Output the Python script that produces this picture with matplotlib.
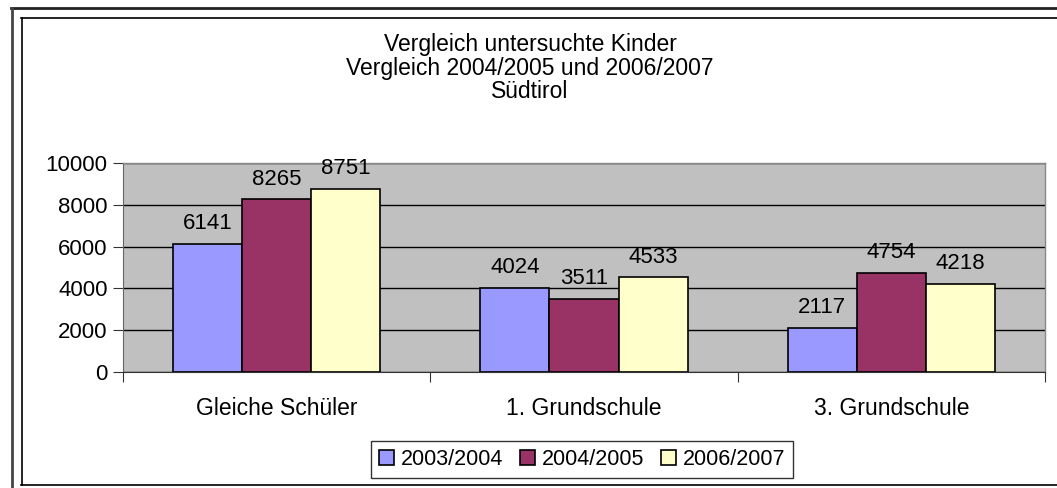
import matplotlib.pyplot as plt
from matplotlib.lines import Line2D
import numpy as np

plt.rcParams['font.family'] = ['Liberation Sans', 'DejaVu Sans']

categories = ["Gleiche Schüler", "1. Grundschule", "3. Grundschule"]
series = ["2003/2004", "2004/2005", "2006/2007"]
v_2003 = [6141, 4024, 2117]
v_2004 = [8265, 3511, 4754]
v_2006 = [8751, 4533, 4218]
colors = ["#9999FF", "#993366", "#FFFFCC"]
yticks = [0, 2000, 4000, 6000, 8000, 10000]

W, H = 1057, 488
fig = plt.figure(figsize=(W / 100, H / 100), dpi=100)

# frame lines round the chart (the right edge is cut off in the original)
def hline(y, x0, x1, lw, c):
    fig.add_artist(Line2D([x0 / W, x1 / W], [1 - y / H, 1 - y / H], lw=lw, color=c,
                          transform=fig.transFigure))

def vline(x, y0, y1, lw, c):
    fig.add_artist(Line2D([x / W, x / W], [1 - y0 / H, 1 - y1 / H], lw=lw, color=c,
                          transform=fig.transFigure))

hline(8, 11, W, 2.0, "#222222")
vline(11.5, 8, H, 2.0, "#444444")
hline(17.5, 21, W, 1.2, "black")
vline(21.5, 17.5, 485, 1.2, "black")
hline(485, 21, W, 1.2, "black")

ax = fig.add_axes([123 / W, 1 - 372 / H, 922 / W, 209 / H])
ax.set_facecolor("#C0C0C0")

x = np.arange(len(categories)) + 0.5
bw = 0.225
for i, (vals, lab) in enumerate(zip([v_2003, v_2004, v_2006], series)):
    pos = x + (i - 1) * bw
    ax.bar(pos, vals, width=bw, color=colors[i], edgecolor="black", linewidth=1.2,
           label=lab, zorder=3)
    for p, v in zip(pos, vals):
        ax.annotate(str(v), (p, v), xytext=(0, 7), textcoords="offset points",
                    ha="center", va="bottom", fontsize=16, color="black")

ax.set_xlim(0, 3)
ax.set_ylim(0, 10000)
ax.set_yticks(yticks)
ax.set_yticklabels([str(t) for t in yticks], fontsize=16)
ax.yaxis.grid(True, color="black", linewidth=1.0, zorder=1)
ax.set_axisbelow(True)

ax.set_xticks([0, 1, 2, 3])
ax.set_xticklabels([])
ax.set_xticks(x, minor=True)
ax.set_xticklabels(categories, minor=True, fontsize=16.5)
ax.tick_params(axis="x", which="minor", length=0, pad=18)
ax.tick_params(axis="x", which="major", direction="out", length=7, color="#333333")
ax.tick_params(axis="y", direction="out", length=7, color="#333333", pad=4)

for s in ["top", "right"]:
    ax.spines[s].set_color("#888888")
    ax.spines[s].set_linewidth(1.0)
ax.spines["left"].set_color("#666666")
ax.spines["bottom"].set_color("#333333")

fig.text(530 / W, 1 - 44 / H, "Vergleich untersuchte Kinder", ha="center", va="center", fontsize=16.5)
fig.text(530 / W, 1 - 68 / H, "Vergleich 2004/2005 und 2006/2007", ha="center", va="center", fontsize=16.5)
fig.text(530 / W, 1 - 92 / H, "Südtirol", ha="center", va="center", fontsize=16.5)

leg = fig.legend(loc="center", bbox_to_anchor=(582 / W, 1 - 459.5 / H), ncol=3,
                 fontsize=15.5, frameon=True, fancybox=False, edgecolor="black",
                 handlelength=0.7, handleheight=0.7, handletextpad=0.3,
                 columnspacing=0.8, borderpad=0.35, borderaxespad=0)
leg.get_frame().set_linewidth(1.0)

fig.savefig("out.png", dpi=100)
